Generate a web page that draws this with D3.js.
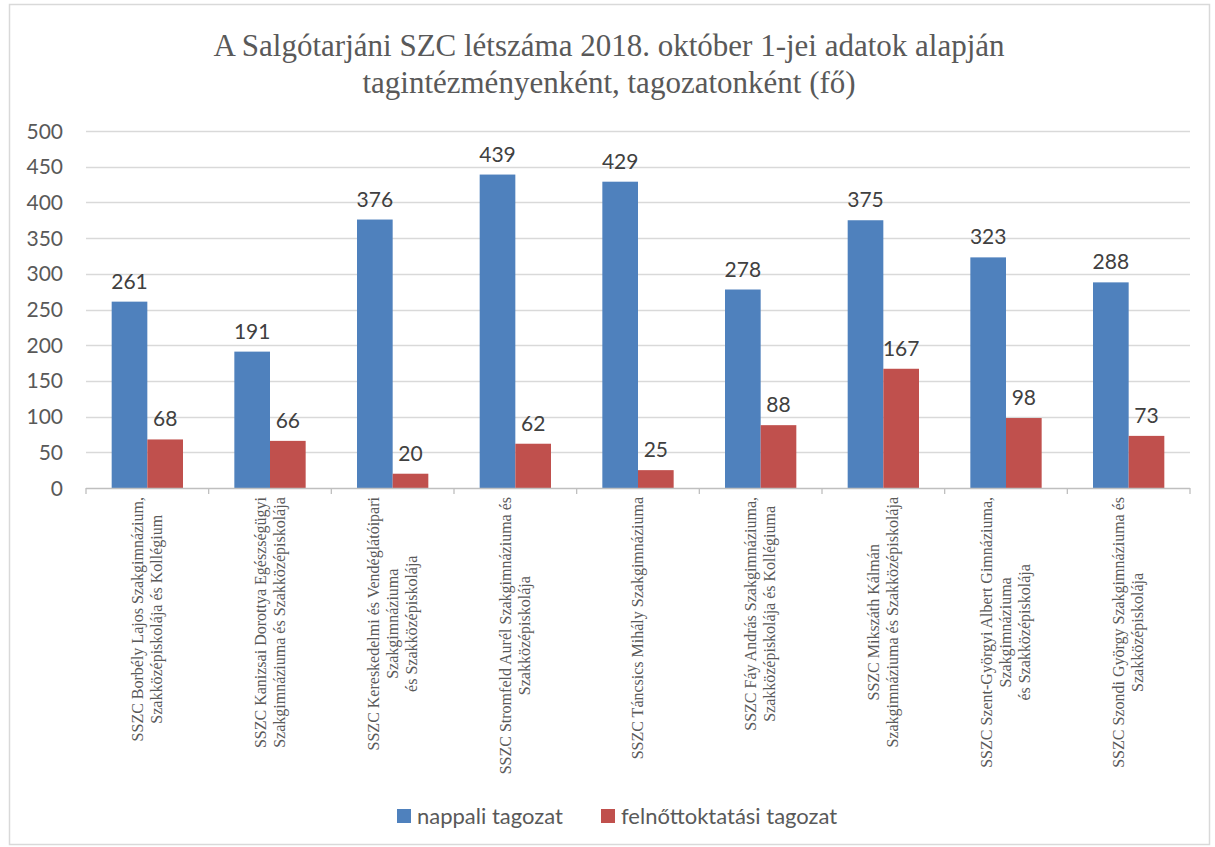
<!DOCTYPE html>
<html lang="hu">
<head>
    <meta charset="UTF-8">
    <title>A Salgótarjáni SZC létszáma</title>
    <style>
        body { margin: 0; background: #fff; }
        svg { display: block; }
    </style>
    <script src="https://d3js.org/d3.v7.min.js"></script>
</head>
<body>
<div id="chart"></div>
<script>
    // chart data
    var categories = [
        ["SSZC Borbély Lajos Szakgimnázium,", "Szakközépiskolája és Kollégium"],
        ["SSZC Kanizsai Dorottya Egészségügyi", "Szakgimnáziuma és Szakközépiskolája"],
        ["SSZC Kereskedelmi és Vendéglátóipari", "Szakgimnáziuma", "és Szakközépiskolája"],
        ["SSZC Stromfeld Aurél Szakgimnáziuma és", "Szakközépiskolája"],
        ["SSZC Táncsics Mihály Szakgimnáziuma"],
        ["SSZC Fáy András Szakgimnáziuma,", "Szakközépiskolája és Kollégiuma"],
        ["SSZC Mikszáth Kálmán", "Szakgimnáziuma és Szakközépiskolája"],
        ["SSZC Szent-Györgyi Albert Gimnáziuma,", "Szakgimnáziuma", "és Szakközépiskolája"],
        ["SSZC Szondi György Szakgimnáziuma és", "Szakközépiskolája"]
    ];
    var nappali = [261, 191, 376, 439, 429, 278, 375, 323, 288];
    var felnott = [68, 66, 20, 62, 25, 88, 167, 98, 73];
    var seriesNames = ["nappali tagozat", "felnőttoktatási tagozat"];
    var yTicks = [0, 50, 100, 150, 200, 250, 300, 350, 400, 450, 500];
    var titleLines = ["A Salgótarjáni SZC létszáma 2018. október 1-jei adatok alapján",
                      "tagintézményenként, tagozatonként (fő)"];

    var width = 1215, height = 847;
    var colors = ["#4F81BD", "#C0504D"];
    var plotLeft = 86, plotRight = 1190, plotTop = 131, plotBottom = 488;
    var sansFont = "Lato, 'Liberation Sans', sans-serif";
    var serifFont = "'Liberation Serif', 'Times New Roman', serif";

    var svg = d3.select("#chart").append("svg")
        .attr("width", width).attr("height", height);

    // outer border
    svg.append("rect")
        .attr("x", 9.5).attr("y", 4.5)
        .attr("width", 1200).attr("height", 840)
        .attr("fill", "#fff").attr("stroke", "#D9D9D9").attr("stroke-width", 1.5);

    // title
    svg.append("text")
        .attr("text-anchor", "middle")
        .attr("font-family", serifFont)
        .attr("font-size", 31)
        .attr("fill", "#595959")
        .selectAll("tspan")
        .data(titleLines)
        .enter()
        .append("tspan")
        .attr("x", 609)
        .attr("y", (d, i) => 56 + i * 37)
        .text(d => d);

    var x0 = d3.scaleBand().domain(d3.range(categories.length)).range([plotLeft, plotRight]);
    var x1 = d3.scaleBand().domain([0, 1]).range([0, x0.bandwidth()]).paddingInner(0).paddingOuter(0.72);
    var y = d3.scaleLinear().domain([0, 500]).range([plotBottom, plotTop]);

    // gridlines
    svg.append("g")
        .selectAll("line")
        .data(yTicks.filter(d => d > 0))
        .enter()
        .append("line")
        .attr("x1", plotLeft).attr("x2", plotRight)
        .attr("y1", d => Math.round(y(d)) + 0.5).attr("y2", d => Math.round(y(d)) + 0.5)
        .attr("stroke", "#D9D9D9").attr("stroke-width", 1.3);

    // y tick labels
    svg.append("g")
        .selectAll("text")
        .data(yTicks)
        .enter()
        .append("text")
        .attr("x", 63)
        .attr("y", d => y(d) + 7.5)
        .attr("text-anchor", "end")
        .attr("font-family", sansFont)
        .attr("font-size", 21)
        .attr("fill", "#595959")
        .text(d => d);

    // bars
    var groups = svg.append("g")
        .selectAll("g")
        .data(categories.map((c, i) => [nappali[i], felnott[i]]))
        .enter()
        .append("g")
        .attr("transform", (d, i) => "translate(" + x0(i) + ",0)");

    groups.selectAll("rect")
        .data(d => d)
        .enter()
        .append("rect")
        .attr("x", (d, j) => x1(j))
        .attr("y", d => y(d))
        .attr("width", x1.bandwidth())
        .attr("height", d => plotBottom - y(d))
        .attr("fill", (d, j) => colors[j]);

    // data labels
    groups.selectAll("text")
        .data(d => d)
        .enter()
        .append("text")
        .attr("x", (d, j) => x1(j) + x1.bandwidth() / 2)
        .attr("y", d => y(d) - 13)
        .attr("text-anchor", "middle")
        .attr("font-family", sansFont)
        .attr("font-size", 21)
        .attr("fill", "#404040")
        .text(d => d);

    // x axis line and ticks
    svg.append("line")
        .attr("x1", plotLeft).attr("x2", plotRight)
        .attr("y1", plotBottom + 0.5).attr("y2", plotBottom + 0.5)
        .attr("stroke", "#BFBFBF").attr("stroke-width", 1.3);

    svg.append("g")
        .selectAll("line")
        .data(d3.range(categories.length + 1))
        .enter()
        .append("line")
        .attr("x1", i => plotLeft + i * x0.bandwidth())
        .attr("x2", i => plotLeft + i * x0.bandwidth())
        .attr("y1", plotBottom).attr("y2", plotBottom + 6)
        .attr("stroke", "#BFBFBF").attr("stroke-width", 1.3);

    // category labels, rotated
    var lineGap = 19;
    categories.forEach(function (lines, i) {
        var cx = x0(i) + x0.bandwidth() / 2;
        var g = svg.append("g");
        var t = g.append("text")
            .attr("text-anchor", "middle")
            .attr("font-family", serifFont)
            .attr("font-size", 16)
            .attr("fill", "#595959");
        t.selectAll("tspan")
            .data(lines)
            .enter()
            .append("tspan")
            .attr("x", 0)
            .attr("y", (d, k) => (k - (lines.length - 1) / 2) * lineGap + 5)
            .text(d => d);
        var maxW = 0;
        t.selectAll("tspan").each(function () {
            maxW = Math.max(maxW, this.getComputedTextLength());
        });
        g.attr("transform", "translate(" + cx + "," + (plotBottom + 9 + maxW / 2) + ") rotate(-90)");
    });

    // legend
    var legendX = [397, 601];
    var legend = svg.append("g")
        .selectAll("g")
        .data(seriesNames)
        .enter()
        .append("g")
        .attr("transform", (d, i) => "translate(" + legendX[i] + ",809)");
    legend.append("rect")
        .attr("width", 14).attr("height", 14)
        .attr("fill", (d, i) => colors[i]);
    legend.append("text")
        .attr("x", 20).attr("y", 15)
        .attr("font-family", sansFont)
        .attr("font-size", 22)
        .attr("fill", "#595959")
        .text(d => d);
</script>
</body>
</html>
